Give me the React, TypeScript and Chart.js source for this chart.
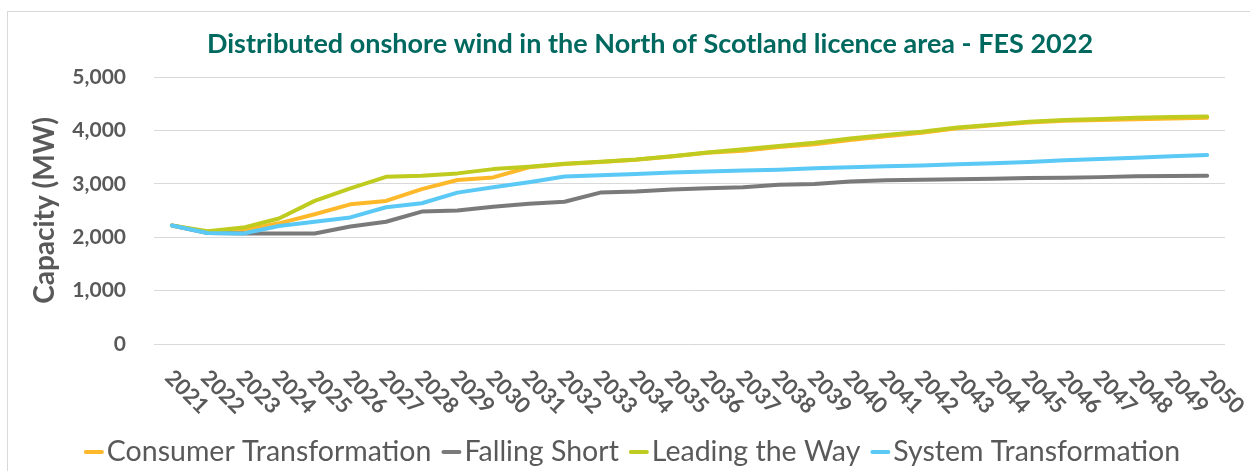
import React, { useEffect, useRef } from "react";
import { Chart, registerables } from "chart.js";

Chart.register(...registerables);

const years = [
  "2021","2022","2023","2024","2025","2026","2027","2028","2029","2030",
  "2031","2032","2033","2034","2035","2036","2037","2038","2039","2040",
  "2041","2042","2043","2044","2045","2046","2047","2048","2049","2050",
];

const consumerTransformation = [
  2220, 2100, 2130, 2260, 2430, 2615, 2680, 2900, 3070, 3120,
  3310, 3370, 3410, 3450, 3510, 3580, 3620, 3690, 3740, 3820,
  3890, 3955, 4040, 4095, 4150, 4180, 4195, 4210, 4225, 4235,
];

const fallingShort = [
  2220, 2080, 2070, 2070, 2070, 2200, 2290, 2480, 2500, 2570,
  2625, 2665, 2835, 2855, 2895, 2915, 2935, 2980, 2995, 3045,
  3065, 3075, 3085, 3095, 3110, 3115, 3125, 3140, 3145, 3150,
];

const leadingTheWay = [
  2220, 2110, 2180, 2350, 2680, 2915, 3130, 3150, 3195, 3275,
  3320, 3375, 3415, 3455, 3515, 3585, 3645, 3710, 3770, 3850,
  3915, 3975, 4055, 4105, 4160, 4195, 4215, 4235, 4250, 4260,
];

const systemTransformation = [
  2220, 2080, 2070, 2210, 2290, 2370, 2560, 2635, 2835, 2935,
  3030, 3135, 3160, 3185, 3210, 3230, 3250, 3265, 3290, 3310,
  3330, 3345, 3365, 3385, 3410, 3440, 3465, 3490, 3515, 3540,
];

const seriesNames = [
  "Consumer Transformation",
  "Falling Short",
  "Leading the Way",
  "System Transformation",
];

const chartTitle = "Distributed onshore wind in the North of Scotland licence area - FES 2022";
const yAxisTitle = "Capacity (MW)";

const FONT = "Lato, 'Noto Sans', sans-serif";
const TEXT_GREY = "#595959";

const titlePlugin = {
  id: "customTitle",
  afterDraw(chart: any) {
    const ctx = chart.ctx;
    ctx.save();
    ctx.font = `bold 27px ${FONT}`;
    ctx.fillStyle = "#00695F";
    ctx.textAlign = "center";
    ctx.textBaseline = "middle";
    ctx.fillText(chartTitle, 650, 44);
    ctx.restore();
  },
};

const rotatedTicksPlugin = {
  id: "rotatedTicks",
  afterDraw(chart: any) {
    const ctx = chart.ctx;
    const xs = chart.scales.x;
    ctx.save();
    ctx.font = `bold 22px ${FONT}`;
    ctx.fillStyle = TEXT_GREY;
    ctx.textAlign = "center";
    ctx.textBaseline = "middle";
    const labels = chart.data.labels as string[];
    labels.forEach((lab, i) => {
      const x = xs.getPixelForValue(i) + 15;
      const y = 392;
      ctx.save();
      ctx.translate(x, y);
      ctx.rotate(Math.PI / 4);
      ctx.fillText(lab, 0, 0);
      ctx.restore();
    });
    ctx.restore();
  },
};

const legendPlugin = {
  id: "customLegend",
  afterDraw(chart: any) {
    const ctx = chart.ctx;
    ctx.save();
    ctx.font = `28.5px ${FONT}`;
    ctx.textBaseline = "middle";
    ctx.textAlign = "left";
    const sw = 20, gap = 3, itemGap = 10;
    const items = chart.data.datasets.map((d: any) => ({
      label: d.label,
      color: d.borderColor,
      w: ctx.measureText(d.label).width,
    }));
    let total = 0;
    items.forEach((it: any, i: number) => {
      total += sw + gap + it.w + (i < items.length - 1 ? itemGap : 0);
    });
    let x = 632 - total / 2;
    const y = 452;
    items.forEach((it: any) => {
      ctx.strokeStyle = it.color;
      ctx.lineWidth = 4;
      ctx.lineCap = "round";
      ctx.beginPath();
      ctx.moveTo(x + 2, y);
      ctx.lineTo(x + sw - 2, y);
      ctx.stroke();
      x += sw + gap;
      ctx.fillStyle = TEXT_GREY;
      ctx.fillText(it.label, x, y);
      x += it.w + itemGap;
    });
    ctx.restore();
  },
};

export default function App() {
  const canvasRef = useRef<HTMLCanvasElement | null>(null);

  useEffect(() => {
    if (!canvasRef.current) return;
    const mk = (label: string, data: number[], color: string, order: number) => ({
      label,
      data,
      borderColor: color,
      backgroundColor: color,
      borderWidth: 4,
      pointRadius: 0,
      tension: 0,
      fill: false,
      order,
      borderCapStyle: "round" as const,
      borderJoinStyle: "round" as const,
    });
    const chart = new Chart(canvasRef.current, {
      type: "line",
      data: {
        labels: years,
        datasets: [
          mk(seriesNames[0], consumerTransformation, "#FDB92A", 4),
          mk(seriesNames[1], fallingShort, "#7A7A7A", 3),
          mk(seriesNames[2], leadingTheWay, "#BFCB1F", 2),
          mk(seriesNames[3], systemTransformation, "#5BC9F5", 1),
        ],
      },
      options: {
        animation: false,
        responsive: true,
        maintainAspectRatio: false,
        layout: { padding: { top: 77, right: 25, bottom: 0, left: 0 } },
        plugins: {
          legend: { display: false },
          title: { display: false },
          tooltip: { enabled: false },
        },
        scales: {
          x: {
            type: "category",
            offset: true,
            grid: { display: false },
            border: { display: false },
            ticks: { display: false },
            afterFit: (s: any) => {
              s.height = 471 - 344;
            },
          },
          y: {
            min: 0,
            max: 5000,
            ticks: {
              stepSize: 1000,
              padding: 28,
              color: TEXT_GREY,
              font: { family: FONT, size: 21, weight: "bold" },
              callback: (v: any) => Number(v).toLocaleString("en-US"),
            },
            grid: { color: "#D9D9D9", lineWidth: 1, drawTicks: false },
            border: { display: false },
            title: {
              display: true,
              text: yAxisTitle,
              color: TEXT_GREY,
              font: { family: FONT, size: 28, weight: "bold" },
              padding: { top: 28, bottom: 0 },
            },
            afterFit: (s: any) => {
              s.width = 154;
            },
          },
        },
      },
      plugins: [titlePlugin, rotatedTicksPlugin, legendPlugin],
    });
    return () => chart.destroy();
  }, []);

  return (
    <div style={{ position: "absolute", left: 0, top: 0, width: 1250, height: 471, background: "#fff", overflow: "hidden" }}>
      <div
        style={{
          position: "absolute",
          left: 7,
          top: 11,
          width: 1300,
          height: 500,
          borderLeft: "1px solid #D9D9D9",
          borderTop: "1px solid #D9D9D9",
        }}
      />
      <div style={{ position: "absolute", left: 0, top: 0, width: 1250, height: 471 }}>
        <canvas ref={canvasRef} />
      </div>
    </div>
  );
}
